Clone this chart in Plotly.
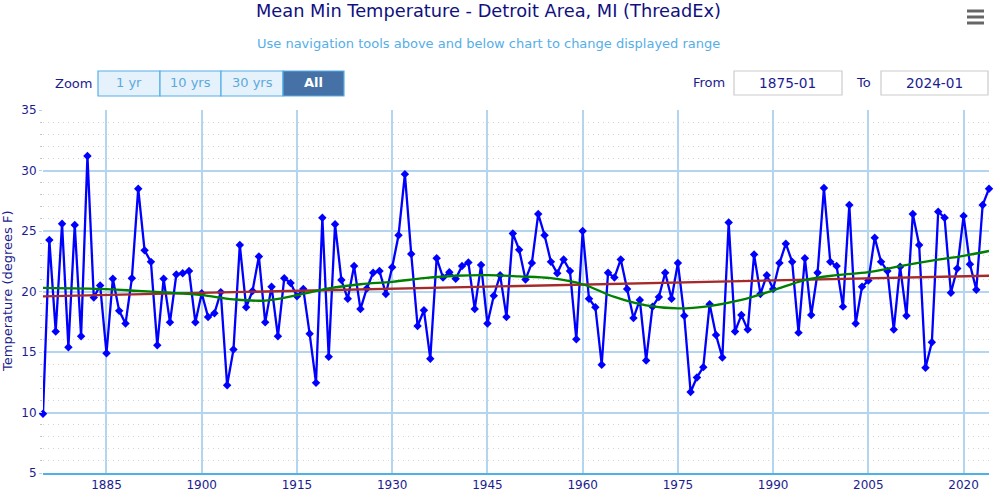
import plotly.graph_objects as go

start_year = 1875
temps = [
 9.9,24.25,16.7,25.6,15.4,25.5,16.3,31.2,19.5,20.5,
 14.9,21.05,18.4,17.35,21.1,28.5,23.4,22.45,15.55,21.05,
 17.45,21.4,21.5,21.7,17.45,19.85,17.9,18.2,19.95,12.25,
 15.2,23.85,18.7,20.05,22.9,17.45,20.4,16.3,21.1,20.7,
 19.6,20.2,16.5,12.45,26.1,14.6,25.55,20.95,19.4,22.1,
 18.55,20.25,21.55,21.7,19.8,22.0,24.65,29.7,23.1,17.15,
 18.45,14.45,22.75,21.15,21.6,21.05,22.1,22.4,18.55,22.2,
 17.35,19.65,21.35,17.9,24.8,23.45,21.0,22.35,26.4,24.65,
 22.45,21.5,22.65,21.7,16.05,25.0,19.4,18.7,13.95,21.55,
 21.15,22.65,20.2,17.8,19.3,14.3,18.75,19.55,21.55,19.4,
 22.35,18.0,11.7,12.9,13.75,18.95,16.4,14.55,25.7,16.7,
 18.05,16.85,23.05,19.8,21.35,20.2,22.35,23.95,22.45,16.6,
 22.75,18.05,21.55,28.55,22.45,22.1,18.75,27.15,17.35,20.4,
 20.9,24.45,22.45,21.7,16.85,22.05,18.0,26.4,23.85,13.7,
 15.8,26.6,26.1,19.9,21.9,26.25,22.25,20.15,27.15,28.5]
years = list(range(start_year, start_year + len(temps)))

smooth_years = [1875,1885,1890,1895,1900,1905,1910,1915,1920,1925,1930,1935,1940,1945,1950,
                1955,1960,1965,1970,1975,1980,1985,1990,1995,2000,2005,2010,2015,2020,2024]
smooth_vals = [20.3,20.2,20.05,19.9,19.7,19.35,19.25,19.7,20.25,20.6,20.8,21.1,21.3,21.35,21.25,
               21.1,20.6,19.55,18.85,18.6,18.8,19.3,20.1,20.95,21.35,21.6,22.1,22.55,22.95,23.35]
trend_years = [1875, 2024]
trend_vals = [19.6, 21.3]

x_ticks = [1885,1900,1915,1930,1945,1960,1975,1990,2005,2020]
y_ticks = [5,10,15,20,25,30,35]

NAVY = "#1c1c8f"
GRID = "#b4d5ef"
LIGHT = "#55aee8"
FONT = "DejaVu Sans"
L, R, T, B = 43, 989, 110, 473

def px(x): return (x - L) / (R - L)
def py(y): return (B - y) / (B - T)

fig = go.Figure()
fig.add_trace(go.Scatter(x=years, y=temps, mode="lines+markers",
    line=dict(color="#0000ff", width=2.3),
    marker=dict(symbol="diamond", size=6.5, color="#0000ff"), cliponaxis=False))
fig.add_trace(go.Scatter(x=trend_years, y=trend_vals, mode="lines",
    line=dict(color="#a52a2a", width=2.3)))
fig.add_trace(go.Scatter(x=smooth_years, y=smooth_vals, mode="lines",
    line=dict(color="#008000", width=2.3, shape="spline", smoothing=1)))

shapes, ann = [], []
def rect(x0, y0, x1, y1, fill, line):
    shapes.append(dict(type="rect", xref="paper", yref="paper", x0=px(x0), x1=px(x1),
                       y0=py(y1), y1=py(y0), fillcolor=fill, line=dict(color=line, width=1.2)))
def text(x, y, s, color, size=12, anchor="center", bold=False):
    ann.append(dict(xref="paper", yref="paper", x=px(x), y=py(y), text=f"<b>{s}</b>" if bold else s,
                    showarrow=False, xanchor=anchor, yanchor="middle",
                    font=dict(family=FONT, size=size, color=color)))

for x0, x1, s, act in [(98,160,"1 yr",False),(160,221,"10 yrs",False),(221,283,"30 yrs",False),(283,344,"All",True)]:
    rect(x0, 71, x1, 96, "#4571a6" if act else "#e6f2fb", LIGHT)
    text((x0+x1)/2, 82.5, s, "#ffffff" if act else "#5ba9dc", 13, bold=act)
text(73.5, 83, "Zoom", NAVY, 13)
text(709, 82, "From", NAVY, 13)
text(863, 82, "To", NAVY, 13)
rect(734, 71, 842, 95, "#ffffff", "#cccccc")
rect(881, 71, 988, 95, "#ffffff", "#cccccc")
text(787, 82.5, "1875-01", NAVY, 13.7)
text(934, 82.5, "2024-01", NAVY, 13.7)
text(488, 10, "Mean Min Temperature - Detroit Area, MI (ThreadEx)", "#10107f", 17.8)
text(488, 44, "Use navigation tools above and below chart to change displayed range", LIGHT, 13)
for y in (11, 17, 23):
    shapes.append(dict(type="line", xref="paper", yref="paper", x0=px(967), x1=px(984),
                       y0=py(y), y1=py(y), line=dict(color="#666666", width=3)))
ann.append(dict(xref="paper", yref="paper", x=px(7), y=py(291), text="Temperature (degrees F)",
                textangle=-90, showarrow=False, xanchor="center", yanchor="middle",
                font=dict(family=FONT, size=13, color=NAVY)))

fig.update_layout(width=1000, height=504, margin=dict(l=L, r=1000-R, t=T, b=504-B),
    showlegend=False, plot_bgcolor="#ffffff", paper_bgcolor="#ffffff",
    shapes=shapes, annotations=ann, font=dict(family=FONT, color=NAVY))
fig.update_xaxes(range=[years[0], years[-1]], tickvals=x_ticks, showgrid=True, gridcolor=GRID,
    gridwidth=1.5, ticks="", zeroline=False, showline=True, linecolor="#4db3e6", linewidth=1.5,
    tickfont=dict(size=12, color=NAVY))
fig.update_yaxes(range=[5, 35], tickvals=y_ticks, showgrid=True, gridcolor=GRID, gridwidth=1.5,
    ticks="outside", ticklen=3, tickcolor=GRID, zeroline=False, showline=False,
    tickfont=dict(size=12, color=NAVY),
    minor=dict(dtick=1, tick0=5, showgrid=True, griddash="1px,4px", gridcolor="#d4d4d4", gridwidth=1,
               ticks="outside", ticklen=2, tickcolor="#c4c4c4"))

fig.write_html("out.html", config=dict(displayModeBar=False),
               post_script="document.body.style.margin='0';")
